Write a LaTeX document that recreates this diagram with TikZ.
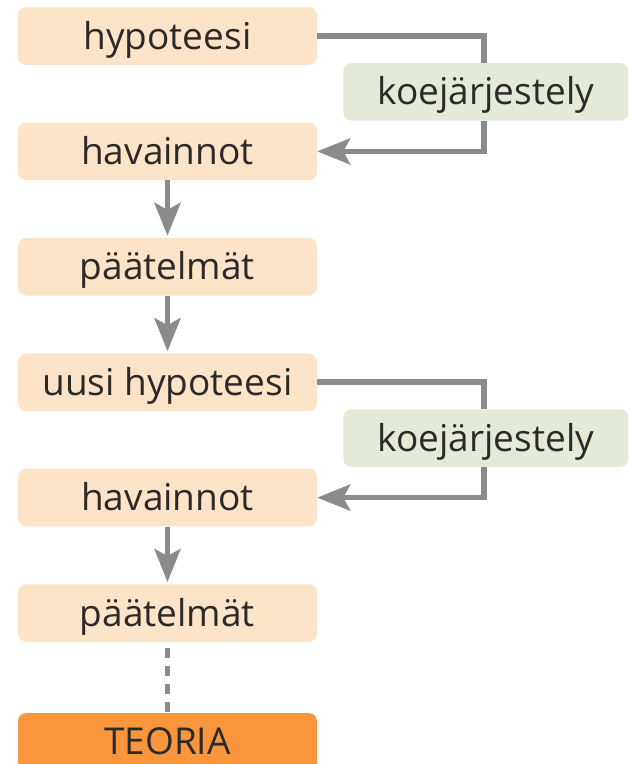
\documentclass[tikz,border=0pt]{standalone}
\usepackage{fontspec}
\setmainfont{Open Sans}
\usetikzlibrary{positioning,arrows.meta}

\definecolor{vaalea}{HTML}{FDE3C7}
\definecolor{vihrea}{HTML}{E3EAD8}
\definecolor{oranssi}{HTML}{F9963B}
\definecolor{harmaa}{HTML}{8A8B8D}
\definecolor{teksti}{HTML}{2B2A29}

\tikzset{
	vaihe/.style={fill=vaalea, rounded corners=8pt, minimum width=299pt, minimum height=57.5pt,
		inner xsep=0pt, inner ysep=0pt, text height=33.5pt, text depth=7.5pt, text=teksti,
		font=\fontsize{37}{40}\selectfont},
	koe/.style={vaihe, fill=vihrea, minimum width=285pt},
	teoria/.style={vaihe, fill=oranssi},
	nuoli/.style={draw=harmaa, line width=5.5pt, -{Stealth[length=33pt,width=26pt,inset=7pt]}},
	kulma/.style={draw=harmaa, line width=5.5pt},
}

\begin{document}
\begin{tikzpicture}[x=1pt,y=-1pt]
				\useasboundingbox (0,0) rectangle (630,764);
				% ensimmainen kierros
				\node[vaihe] (h0) at (167.5,36) {hypoteesi};
				\node[vaihe, below=57.5pt of h0] (v0) {havainnot};
				\node[vaihe, below=57.5pt of v0] (p0) {päätelmät};
				\node[koe, below right=-2pt and 26pt of h0] (k0) {koejärjestely};
				
				% toinen kierros
				\node[vaihe, below=57.5pt of p0] (h1) {uusi hypoteesi};
				\node[vaihe, below=57.5pt of h1] (v1) {havainnot};
				\node[vaihe, below=57.5pt of v1] (p1) {päätelmät};
				\node[koe, below right=-2pt and 26pt of h1] (k1) {koejärjestely};
				
				\node[teoria, below=71pt of p1] (t) {TEORIA};
				
				\draw[kulma] (h0.east) -| ([xshift=-2pt]k0.north);
				\draw[nuoli] ([xshift=-2pt]k0.south) |- (v0.east);
				\draw[kulma] (h1.east) -| ([xshift=-2pt]k1.north);
				\draw[nuoli] ([xshift=-2pt]k1.south) |- (v1.east);
				
				\draw[nuoli, shorten >=2pt] (v0) -- (p0);
				\draw[nuoli, shorten >=2pt] (p0) -- (h1);
				\draw[nuoli, shorten >=2pt] (v1) -- (p1);
				\draw[kulma, dash pattern=on 10pt off 8pt, dash phase=-6pt] (p1) -- (t);
\end{tikzpicture}
\end{document}
